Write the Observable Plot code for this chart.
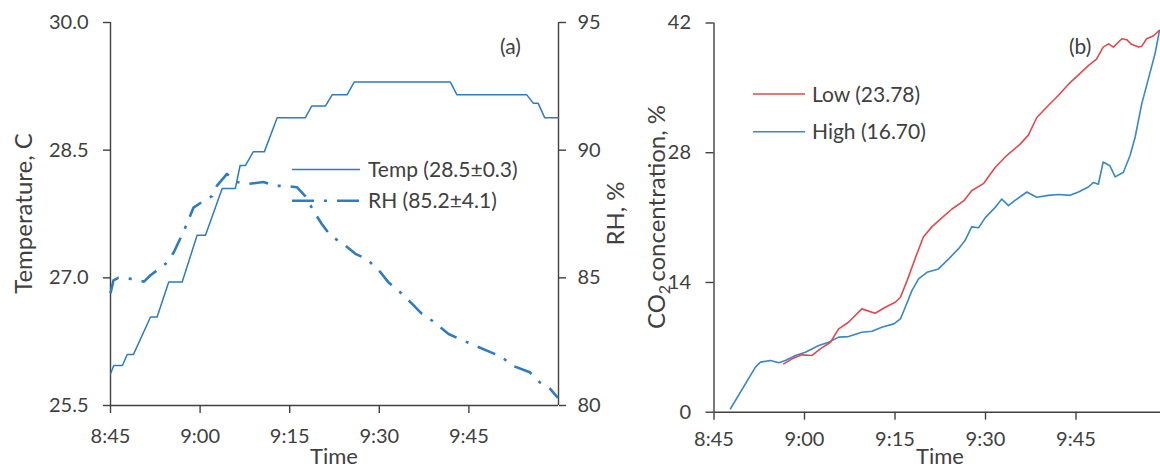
<!DOCTYPE html>
<html>
<head>
<meta charset="utf-8">
<script src="https://cdn.jsdelivr.net/npm/d3@7"></script>
<script src="https://cdn.jsdelivr.net/npm/@observablehq/plot@0.6"></script>
<style>
html,body{margin:0;padding:0;background:#fff;overflow:hidden}
#wrap{position:relative;width:1160px;height:470px;font-family:Lato,sans-serif}
#wrap > svg{position:absolute;top:0}
</style>
</head>
<body>
<div id="wrap"></div>
<script>
// ---- data (minutes after 8:45) ----
const timeTicks = ["8:45", "9:00", "9:15", "9:30", "9:45"];
const tickMinutes = [0, 15, 30, 45, 60];
const tempTicks = [25.5, 27.0, 28.5, 30.0];
const rhTicks = [80, 85, 90, 95];
const co2Ticks = [0, 14, 28, 42];

const tempMinutes = [0, 0.55, 2.0, 2.8, 3.85, 6.7, 7.8, 9.75, 12.0, 14.5, 15.9, 18.7, 20.9, 21.7, 22.6, 23.9, 25.75, 27.9, 32.6, 33.7, 36.0, 37.1, 39.6, 40.8, 56.9, 58.0, 69.7, 70.8, 71.6, 72.7, 75];
const tempValues = [25.87, 25.97, 25.97, 26.1, 26.1, 26.54, 26.54, 26.95, 26.95, 27.5, 27.5, 28.05, 28.05, 28.32, 28.32, 28.48, 28.48, 28.88, 28.88, 29.02, 29.02, 29.15, 29.15, 29.3, 29.3, 29.15, 29.15, 29.05, 29.05, 28.88, 28.88];

const rhMinutes = [0, 0.5, 1.3, 3.6, 5.6, 6.7, 8.1, 9.5, 10.6, 12.3, 13.9, 15.5, 17.0, 17.8, 19.5, 21.2, 23.1, 25.6, 27.6, 29.3, 31.2, 32.6, 34.3, 35.4, 36.8, 39.3, 41.0, 42.9, 45.2, 46.5, 47.9, 50.5, 52.1, 53.8, 56.6, 58.5, 60.5, 63.5, 65.5, 67.2, 70.2, 71.9, 73.6, 74.9];
const rhValues = [84.4, 84.9, 85.0, 84.96, 84.85, 85.1, 85.35, 85.6, 86.0, 86.85, 87.75, 88.0, 88.2, 88.6, 89.07, 88.75, 88.68, 88.75, 88.6, 88.6, 88.55, 88.2, 87.5, 87.1, 86.66, 86.27, 85.94, 85.74, 85.22, 84.83, 84.57, 83.98, 83.6, 83.33, 82.8, 82.6, 82.4, 82.1, 81.9, 81.57, 81.3, 80.9, 80.65, 80.3];

const highMinutes = [2.73, 6.87, 7.7, 9.35, 10.73, 11.83, 13.5, 15.15, 17.36, 19.0, 20.66, 22.3, 24.5, 26.2, 27.8, 29.8, 30.9, 31.7, 32.8, 33.9, 35.3, 37.2, 38.9, 40.5, 41.6, 42.7, 43.85, 44.96, 46.6, 47.7, 48.8, 49.9, 51.85, 53.5, 55.4, 57.1, 59.0, 60.4, 62.05, 62.9, 63.7, 64.5, 65.6, 66.5, 67.85, 68.96, 69.8, 70.9, 72.0, 73.1, 73.8];
const highValues = [0.37, 4.86, 5.4, 5.58, 5.33, 5.58, 6.12, 6.47, 7.2, 7.55, 8.1, 8.16, 8.63, 8.74, 9.17, 9.53, 10.07, 11.33, 13.12, 14.38, 15.1, 15.46, 16.54, 17.62, 18.52, 20.0, 19.9, 21.0, 22.1, 23.0, 22.3, 22.86, 23.76, 23.2, 23.4, 23.5, 23.4, 23.76, 24.3, 24.8, 24.6, 27.0, 26.6, 25.4, 25.9, 27.7, 29.7, 33.3, 36.0, 38.7, 41.1];

const lowMinutes = [11.56, 12.94, 14.6, 16.25, 17.6, 19.3, 20.66, 22.3, 24.5, 26.7, 28.4, 30.05, 30.9, 32.0, 33.4, 34.7, 36.1, 37.8, 39.4, 41.37, 42.7, 44.7, 46.6, 48.5, 50.7, 52.1, 53.5, 55.4, 57.1, 58.75, 60.4, 62.05, 63.4, 64.5, 65.4, 66.2, 67.6, 68.4, 69.2, 70.35, 70.9, 71.7, 72.8, 73.8];
const lowValues = [5.22, 5.76, 6.19, 6.12, 6.83, 7.55, 8.99, 9.71, 11.15, 10.68, 11.33, 11.87, 12.41, 14.2, 16.7, 18.9, 20.0, 21.0, 21.9, 22.8, 23.9, 24.7, 26.4, 27.7, 28.9, 29.9, 31.8, 33.1, 34.2, 35.4, 36.4, 37.4, 38.1, 39.4, 39.75, 39.4, 40.3, 40.2, 39.7, 39.4, 39.5, 40.3, 40.6, 41.2];

// ---- styles ----
const blue = "#2e7bbf";
const co2Blue = "#3a87c6";
const co2Red = "#df4a4f";
const axisColor = "#404040";
const textColor = "#404040";
const font = "Lato, sans-serif";

const rhToTemp = rh => 25.5 + (rh - 80) * 0.3;
const tempToRh = t => 80 + (t - 25.5) / 0.3;

const axisText = {fontSize: 20, fill: textColor, stroke: axisColor, strokeWidth: 1.4, label: null};

const plotA = Plot.plot({
  width: 600, height: 470,
  marginLeft: 110, marginRight: 42, marginTop: 22, marginBottom: 65,
  x: {domain: [0, 75]},
  y: {domain: [25.5, 30]},
  style: {fontFamily: font, background: "transparent", overflow: "visible"},
  marks: [
    Plot.axisY({...axisText, ticks: tempTicks, tickFormat: d => d.toFixed(1), tickSize: 7, tickPadding: 15}),
    Plot.axisY({...axisText, anchor: "right", ticks: rhTicks.map(rhToTemp), tickFormat: d => String(Math.round(tempToRh(d))), tickSize: 7, tickPadding: 12}),
    Plot.axisX({...axisText, ticks: tickMinutes, tickFormat: d => timeTicks[tickMinutes.indexOf(d)], tickSize: 8, tickPadding: 15}),
    Plot.ruleX([0, 75], {stroke: axisColor, strokeWidth: 1.4}),
    Plot.ruleY([25.5], {stroke: axisColor, strokeWidth: 1.4}),
    Plot.line(tempMinutes, {x: d => d, y: (d, i) => tempValues[i], stroke: blue, strokeWidth: 1.5}),
    Plot.line(rhMinutes, {x: d => d, y: (d, i) => rhToTemp(rhValues[i]), stroke: blue, strokeWidth: 2.6, strokeDasharray: "19,10,3,10", strokeLinecap: "butt"})
  ]
});
plotA.style.left = "0px";

const plotB = Plot.plot({
  width: 560, height: 470,
  marginLeft: 113.5, marginRight: 0, marginTop: 22.5, marginBottom: 58.3,
  x: {domain: [0, 74]},
  y: {domain: [0, 42]},
  style: {fontFamily: font, background: "transparent", overflow: "visible"},
  marks: [
    Plot.axisY({...axisText, ticks: co2Ticks, tickFormat: d => String(d), tickSize: 8, tickPadding: 15}),
    Plot.axisX({...axisText, ticks: tickMinutes, tickFormat: d => timeTicks[tickMinutes.indexOf(d)], tickSize: 8, tickPadding: 12}),
    Plot.ruleX([0], {stroke: axisColor, strokeWidth: 1.4}),
    Plot.ruleY([0], {stroke: axisColor, strokeWidth: 1.4}),
    Plot.line(highMinutes, {x: d => d, y: (d, i) => highValues[i], stroke: co2Blue, strokeWidth: 1.6}),
    Plot.line(lowMinutes, {x: d => d, y: (d, i) => lowValues[i], stroke: co2Red, strokeWidth: 1.6})
  ]
});
plotB.style.left = "600px";

const wrap = document.getElementById("wrap");
wrap.appendChild(plotA);
wrap.appendChild(plotB);

// ---- overlay: titles, legends, panel tags ----
const ns = "http://www.w3.org/2000/svg";
const ov = document.createElementNS(ns, "svg");
ov.setAttribute("width", 1160);
ov.setAttribute("height", 470);
ov.style.position = "absolute";
ov.style.left = "0px";
ov.style.top = "0px";
ov.style.pointerEvents = "none";
ov.setAttribute("font-family", font);
ov.setAttribute("fill", textColor);
ov.innerHTML = `
  <text transform="translate(23,213.5) rotate(-90)" text-anchor="middle" dy="0.36em" font-size="24">Temperature, C</text>
  <text transform="translate(615,213.5) rotate(-90)" text-anchor="middle" dy="0.36em" font-size="24">RH, %</text>
  <text transform="translate(656,217) rotate(-90)" text-anchor="middle" dy="0.36em" font-size="24">CO<tspan dy="5" font-size="16">2</tspan><tspan dy="-5" dx="3">concentration, %</tspan></text>
  <text x="334" y="464" text-anchor="middle" font-size="22">Time</text>
  <text x="940" y="464" text-anchor="middle" font-size="22">Time</text>
  <text x="500" y="46.5" dy="0.36em" font-size="21">(a)</text>
  <text x="1069" y="46" dy="0.36em" font-size="21">(b)</text>
  <line x1="292" x2="360" y1="169.5" y2="169.5" stroke="${blue}" stroke-width="1.5"/>
  <line x1="292" x2="360" y1="200.7" y2="200.7" stroke="${blue}" stroke-width="2.6" stroke-dasharray="22,10,3,10"/>
  <text x="368" y="169.5" dy="0.36em" font-size="21">Temp (28.5±0.3)</text>
  <text x="368" y="200.7" dy="0.36em" font-size="21">RH (85.2±4.1)</text>
  <line x1="753" x2="805" y1="94" y2="94" stroke="${co2Red}" stroke-width="1.6"/>
  <line x1="753" x2="805" y1="131.7" y2="131.7" stroke="${co2Blue}" stroke-width="1.6"/>
  <text x="812" y="94" dy="0.36em" font-size="21">Low (23.78)</text>
  <text x="812" y="131.7" dy="0.36em" font-size="21">High (16.70)</text>
`;
wrap.appendChild(ov);
</script>
</body>
</html>
